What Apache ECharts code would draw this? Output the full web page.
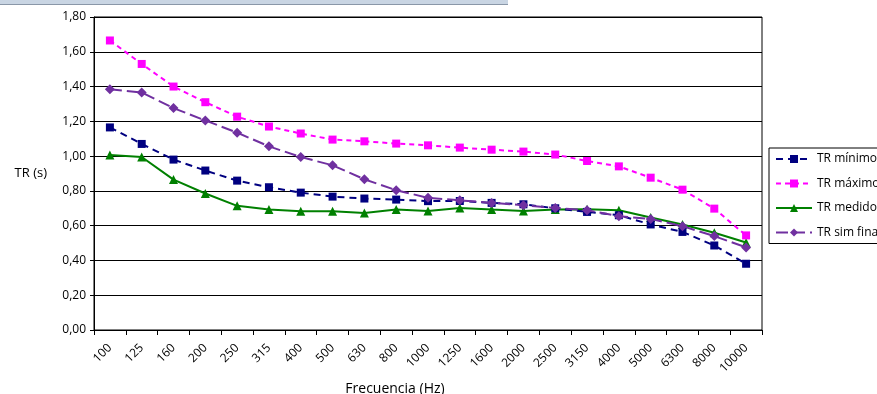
<!DOCTYPE html>
<html>
<head>
<meta charset="utf-8">
<script src="https://cdn.jsdelivr.net/npm/echarts@6/dist/echarts.min.js"></script>
<style>
html,body{margin:0;padding:0;background:#fff;}
#c{width:877px;height:394px;}
</style>
</head>
<body>
<div id="c"></div>
<script>
const categories = ['100','125','160','200','250','315','400','500','630','800','1000','1250','1600','2000','2500','3150','4000','5000','6300','8000','10000'];
const trMinimo = [1.165,1.07,0.98,0.917,0.859,0.821,0.79,0.767,0.756,0.75,0.741,0.742,0.731,0.723,0.70,0.679,0.66,0.607,0.564,0.486,0.381];
const trMaximo = [1.665,1.53,1.40,1.31,1.227,1.17,1.13,1.095,1.085,1.072,1.062,1.049,1.037,1.026,1.009,0.972,0.941,0.876,0.807,0.698,0.544];
const trMedido = [1.006,0.995,0.865,0.785,0.714,0.693,0.683,0.683,0.673,0.693,0.685,0.702,0.693,0.685,0.693,0.695,0.689,0.647,0.607,0.559,0.503];
const trSimFinal = [1.385,1.366,1.276,1.205,1.135,1.056,0.995,0.947,0.867,0.804,0.76,0.746,0.731,0.718,0.702,0.689,0.654,0.639,0.597,0.54,0.475];
const seriesNames = ['TR mínimo','TR máximo','TR medido','TR sim final'];

const font = '"Open Sans", "Noto Sans", sans-serif';
const chart = echarts.init(document.getElementById('c'), null, {renderer:'canvas'});
chart.setOption({
  animation:false,
  backgroundColor:'#ffffff',
  textStyle:{fontFamily:font},
  graphic:[
    {type:'rect', left:0, top:0, shape:{width:508, height:4}, style:{fill:'#c9d5e3'}, silent:true},
    {type:'rect', left:0, top:4, shape:{width:508, height:1}, style:{fill:'#8a97a8'}, silent:true}
  ],
  grid:{left:94, right:115, top:17, bottom:64, show:true, borderColor:'#000', borderWidth:1,
        containLabel:false, outerBoundsMode:'none'},
  legend:{
    orient:'vertical', left:769, top:148,
    itemWidth:36, itemHeight:10, itemGap:12.5,
    padding:[5,8,5,6],
    borderColor:'#000', borderWidth:1,
    textStyle:{fontFamily:font, fontSize:12, color:'#000'},
    data:seriesNames
  },
  xAxis:{
    type:'category', data:categories, boundaryGap:true,
    name:'Frecuencia (Hz)', nameLocation:'middle', nameGap:48,
    nameTextStyle:{fontFamily:font, fontSize:14, color:'#000', padding:[0,66,0,0]},
    axisLine:{lineStyle:{color:'#000', width:1}},
    axisTick:{show:true, alignWithLabel:false, length:5, lineStyle:{color:'#000'}},
    axisLabel:{rotate:45, fontSize:12, color:'#000', fontFamily:font, margin:16, interval:0},
    splitLine:{show:false}
  },
  yAxis:{
    type:'value', min:0, max:1.8, interval:0.2,
    name:'TR (s)', nameLocation:'middle', nameRotate:0, nameGap:47,
    nameTextStyle:{fontFamily:font, fontSize:13, color:'#000'},
    axisLine:{show:true, lineStyle:{color:'#000', width:1}},
    axisTick:{show:true, length:4, lineStyle:{color:'#000'}},
    axisLabel:{fontSize:12, color:'#000', fontFamily:font, margin:8,
      formatter:v=>v.toFixed(2).replace('.',',')},
    splitLine:{show:true, lineStyle:{color:'#000', width:1}}
  },
  series:[
    {name:seriesNames[0], type:'line', data:trMinimo, symbol:'rect', symbolSize:8,
     itemStyle:{color:'#000080'}, lineStyle:{color:'#000080', width:2, type:[7,5]}, z:3},
    {name:seriesNames[1], type:'line', data:trMaximo, symbol:'rect', symbolSize:8,
     itemStyle:{color:'#ff00ff'}, lineStyle:{color:'#ff00ff', width:2, type:[5,4]}, z:3},
    {name:seriesNames[2], type:'line', data:trMedido, symbol:'triangle', symbolSize:9,
     itemStyle:{color:'#008000'}, lineStyle:{color:'#008000', width:2, type:'solid'}, z:2},
    {name:seriesNames[3], type:'line', data:trSimFinal, symbol:'diamond', symbolSize:10,
     itemStyle:{color:'#7030a0'}, lineStyle:{color:'#7030a0', width:2, type:[12,5]}, z:4}
  ]
});
</script>
</body>
</html>
